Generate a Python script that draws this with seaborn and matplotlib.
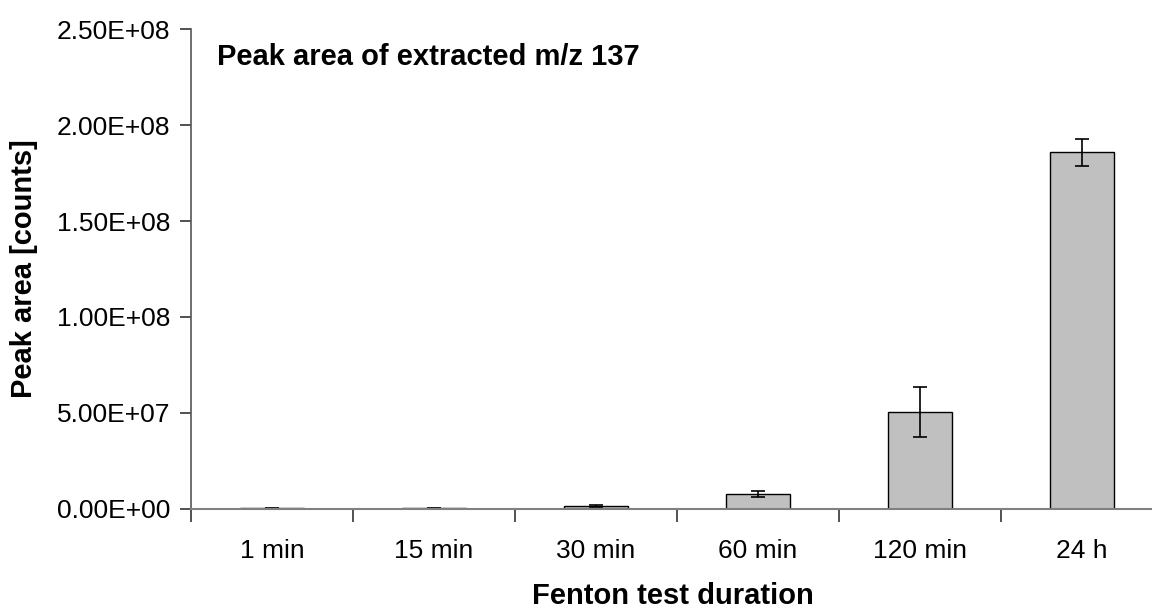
import numpy as np
import pandas as pd
import matplotlib
matplotlib.use("Agg")
import matplotlib.pyplot as plt
from matplotlib.ticker import FuncFormatter, MultipleLocator
import seaborn as sns

categories = ["1 min", "15 min", "30 min", "60 min", "120 min", "24 h"]
peak_area = [1.5e5, 2.0e5, 1.3e6, 7.5e6, 5.04e7, 1.859e8]
peak_err = [1.0e5, 1.0e5, 5.0e5, 1.5e6, 1.29e7, 7.0e6]
title_text = "Peak area of extracted m/z 137"
x_label = "Fenton test duration"
y_label = "Peak area [counts]"

sns.set_theme(style="white")
plt.rcParams["font.family"] = ["Liberation Sans", "DejaVu Sans"]
plt.rcParams["text.color"] = "black"
plt.rcParams["axes.labelcolor"] = "black"
plt.rcParams["xtick.color"] = "black"
plt.rcParams["ytick.color"] = "black"

df = pd.DataFrame({"duration": categories, "area": peak_area})

fig = plt.figure(figsize=(11.52, 6.08), dpi=100)
ax_left, ax_right, ax_top, ax_bottom = 191, 1163, 29.3, 508.7
ax = fig.add_axes([ax_left / 1152, 1 - ax_bottom / 608,
                   (ax_right - ax_left) / 1152, (ax_bottom - ax_top) / 608])

sns.barplot(data=df, x="duration", y="area", order=categories, color="#C0C0C0",
            saturation=1, width=0.4, edgecolor="black", linewidth=1.0,
            errorbar=None, ax=ax)
ax.errorbar(np.arange(len(categories)), peak_area, yerr=peak_err, fmt="none",
            ecolor="black", elinewidth=1.2, capsize=5, capthick=1.2)

ax.set_xlim(-0.5, len(categories) - 0.5)
ax.set_ylim(0, 2.5e8)
ax.yaxis.set_major_locator(MultipleLocator(5e7))
ax.yaxis.set_major_formatter(FuncFormatter(lambda v, p: f"{v:.2E}"))

for s in ["top", "right"]:
    ax.spines[s].set_visible(False)
ax.spines["left"].set_color("#555555")
ax.spines["bottom"].set_color("#808080")
ax.spines["left"].set_linewidth(1.2)
ax.spines["bottom"].set_linewidth(1.5)

ax.set_xticks(np.arange(len(categories) + 1) - 0.5, minor=False)
ax.set_xticklabels([])
ax.set_xticks(np.arange(len(categories)), minor=True)
ax.set_xticklabels(categories, minor=True)
ax.tick_params(axis="x", which="major", direction="out", length=9, width=1.2,
               color="#333333", bottom=True)
ax.tick_params(axis="x", which="minor", length=0, pad=22, labelsize=19)
ax.tick_params(axis="y", direction="out", length=8, width=1.2, color="#333333",
               left=True, pad=7, labelsize=19)

ax_w = ax_right - ax_left
ax_h = ax_bottom - ax_top
ax.set_xlabel(x_label, fontsize=21, fontweight="bold", va="center")
ax.xaxis.set_label_coords((672.5 - ax_left) / ax_w, (ax_bottom - 596) / ax_h)
ax.set_ylabel(y_label, fontsize=21, fontweight="bold", va="center")
ax.yaxis.set_label_coords((24 - ax_left) / ax_w, 0.5)
ax.text((216.7 - ax_left) / ax_w, (ax_bottom - 56.7) / ax_h, title_text,
        transform=ax.transAxes, fontsize=21, fontweight="bold",
        va="center", ha="left")

fig.savefig("out.png", dpi=100)
